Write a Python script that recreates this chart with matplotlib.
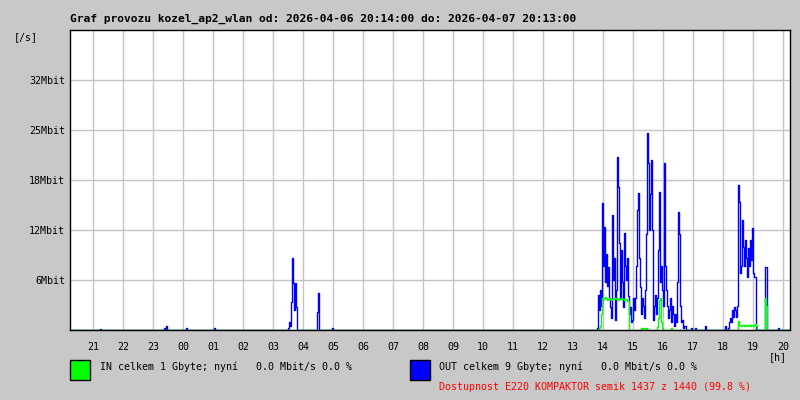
import numpy as np
import matplotlib.pyplot as plt
import matplotlib.patches as mpatches

# graf od 2026-04-06 20:14 do 2026-04-07 20:13, vzorky po 2 min
title = "Graf provozu kozel_ap2_wlan od: 2026-04-06 20:14:00 do: 2026-04-07 20:13:00"
hour_labels = ["21", "22", "23", "00", "01", "02", "03", "04", "05", "06", "07", "08",
               "09", "10", "11", "12", "13", "14", "15", "16", "17", "18", "19", "20"]
y_ticks = [6.25, 12.5, 18.75, 25.0, 31.25]
y_labels = ["6Mbit", "12Mbit", "18Mbit", "25Mbit", "32Mbit"]
y_max = 37.5

# OUT [Mbit/s] - useky: zacatek (hh:mm), hodnoty po 2 minutach
out_seg = [
    ("21:12", [0, 0.15, 0]),
    ("23:20", [0, 0.3, 0, 0.5, 0, 0]),
    ("00:04", [0, 0.2, 0]),
    ("01:00", [0, 0.2, 0]),
    ("03:28", [0, 0.3, 1.0, 0.5, 3.5, 9.0, 5.9, 2.5, 5.9, 2.9, 0]),
    ("04:26", [0, 2.2, 4.6, 0]),
    ("04:56", [0, 0.2, 0]),
    ("13:46", [0, 0.3, 4.4, 2.5, 5.0, 3.0, 15.9, 8.0, 12.9, 6.0,
               9.5, 5.5, 7.9, 4.0, 2.9, 1.5, 14.4, 6.2, 9.0, 1.25,
               5.0, 21.6, 17.9, 10.9, 4.0, 10.0, 6.0, 2.9, 12.1, 8.0,
               6.2, 9.0, 4.2, 2.0, 2.9, 1.0, 1.25, 4.0, 2.5, 4.0,
               8.0, 15.0, 17.1, 9.0, 5.4, 2.0, 4.0, 3.0, 1.5, 5.0,
               12.0, 24.6, 20.9, 12.5, 17.0, 21.25, 12.5, 1.25, 3.0, 4.4,
               2.0, 4.0, 10.0, 17.3, 6.0, 8.0, 5.0, 3.0, 20.9, 8.0,
               5.0, 3.0, 1.5, 2.5, 4.0, 1.0, 3.0, 2.0, 0.5, 2.0,
               1.0, 6.0, 14.75, 12.0, 3.0, 1.0, 1.2, 0.3, 0.5, 0.5, 0]),
    ("16:54", [0, 0.3, 0]),
    ("17:02", [0, 0.3, 0]),
    ("17:22", [0, 0.5, 0]),
    ("18:02", [0, 0.5, 0, 0, 0.3, 1.0, 1.5, 1.0, 2.5, 1.6,
               2.9, 2.5, 1.6, 3.0, 18.1, 16.0, 7.1, 8.0, 13.75, 10.4,
               8.0, 11.25, 9.0, 6.6, 10.25, 8.0, 11.25, 8.75, 12.75, 7.1,
               6.6, 6.6, 0]),
    ("19:22", [0, 7.9, 7.9, 0]),
    ("19:48", [0, 0.3, 0]),
]

# IN [Mbit/s]
in_seg = [
    ("13:50", [0, 0.3, 0.5, 2.0, 4.0, 3.9, 4.0, 4.1, 4.0, 3.8,
               3.9, 4.0, 3.9, 3.8, 3.9, 3.9, 4.0, 4.0, 3.9, 4.0,
               3.8, 3.9, 3.9, 4.0, 3.9, 3.9, 3.8, 3.9, 3.9, 3.6,
               3.6, 0]),
    ("15:14", [0, 0.2, 0.1, 0.2, 0.2, 0.1, 0.2, 0]),
    ("15:46", [0, 0.4, 1.5, 3.8, 4.0, 1.0, 0.3, 0]),
    ("16:14", [0, 0.2, 0]),
    ("18:28", [0, 1.1, 0.6, 0.6, 0.5, 0.6, 0.6, 0.5, 0.6, 0.6,
               0.5, 0.6, 0.6, 0.5, 0.6, 0.6, 0.5, 0.6, 0.7, 0.5, 0]),
    ("19:22", [0, 4.0, 3.0, 0]),
]


def minutes(hhmm):
    h, m = map(int, hhmm.split(":"))
    v = h * 60 + m - (20 * 60 + 14)
    return v + 1440 if v < 0 else v


def build(segs):
    t, v = [0], [0]
    for start, vals in segs:
        t0 = minutes(start)
        for i, val in enumerate(vals):
            t.append(t0 + 2 * i)
            v.append(val)
    t.append(1440)
    v.append(0)
    return np.array(t), np.array(v)


t_out, v_out = build(out_seg)
t_in, v_in = build(in_seg)

bg = "#c8c8c8"
fig = plt.figure(figsize=(8, 4), dpi=100, facecolor=bg)
ax = fig.add_axes([70 / 800, 70 / 400, 720 / 800, 300 / 400])
ax.set_facecolor("white")

ax.plot(t_out, v_out, color="#0000ff", lw=1.0, drawstyle="steps-mid")
ax.plot(t_in, v_in, color="#00ff00", lw=1.0, drawstyle="steps-mid")

ax.set_xlim(0, 1440)
ax.set_ylim(0, y_max)
hour_pos = [minutes("21:00") + 60 * i for i in range(len(hour_labels))]
ax.set_xticks(hour_pos)
ax.set_xticklabels(hour_labels, family="DejaVu Sans Mono", fontsize=7.2)
ax.set_yticks(y_ticks)
ax.set_yticklabels(y_labels, family="DejaVu Sans Mono", fontsize=7.2)
ax.tick_params(axis="x", length=0, pad=9)
ax.tick_params(axis="y", length=0, pad=3.5)
ax.grid(True, color="#c4c4c4", lw=1)
ax.set_axisbelow(True)
for s in ax.spines.values():
    s.set_color("black")
    s.set_linewidth(1)

mono = "DejaVu Sans Mono"
fig.text(70 / 800, 1 - 19 / 400, title, family=mono, fontsize=8.15,
         fontweight="bold", va="center", ha="left")
fig.text(26 / 800, 1 - 37 / 400, "[/s]", family=mono, fontsize=7.2,
         va="center", ha="center")
fig.text(778 / 800, 1 - 357 / 400, "[h]", family=mono, fontsize=7.2,
         va="center", ha="center")

fig.patches.append(mpatches.Rectangle((70 / 800, 1 - 380 / 400), 20 / 800, 20 / 400,
                                      transform=fig.transFigure, facecolor="#00ff00",
                                      edgecolor="black", lw=1))
fig.patches.append(mpatches.Rectangle((410 / 800, 1 - 380 / 400), 20 / 800, 20 / 400,
                                      transform=fig.transFigure, facecolor="#0000ff",
                                      edgecolor="black", lw=1))
fig.text(100 / 800, 1 - 367 / 400, "IN celkem 1 Gbyte; nyní   0.0 Mbit/s 0.0 %",
         family=mono, fontsize=7.2, va="center", ha="left")
fig.text(439 / 800, 1 - 367 / 400, "OUT celkem 9 Gbyte; nyní   0.0 Mbit/s 0.0 %",
         family=mono, fontsize=7.2, va="center", ha="left")
fig.text(439 / 800, 1 - 387 / 400, "Dostupnost E220 KOMPAKTOR semik 1437 z 1440 (99.8 %)",
         family=mono, fontsize=7.2, va="center", ha="left", color="#ff0000")

fig.savefig("out.png", dpi=100, facecolor=bg)
